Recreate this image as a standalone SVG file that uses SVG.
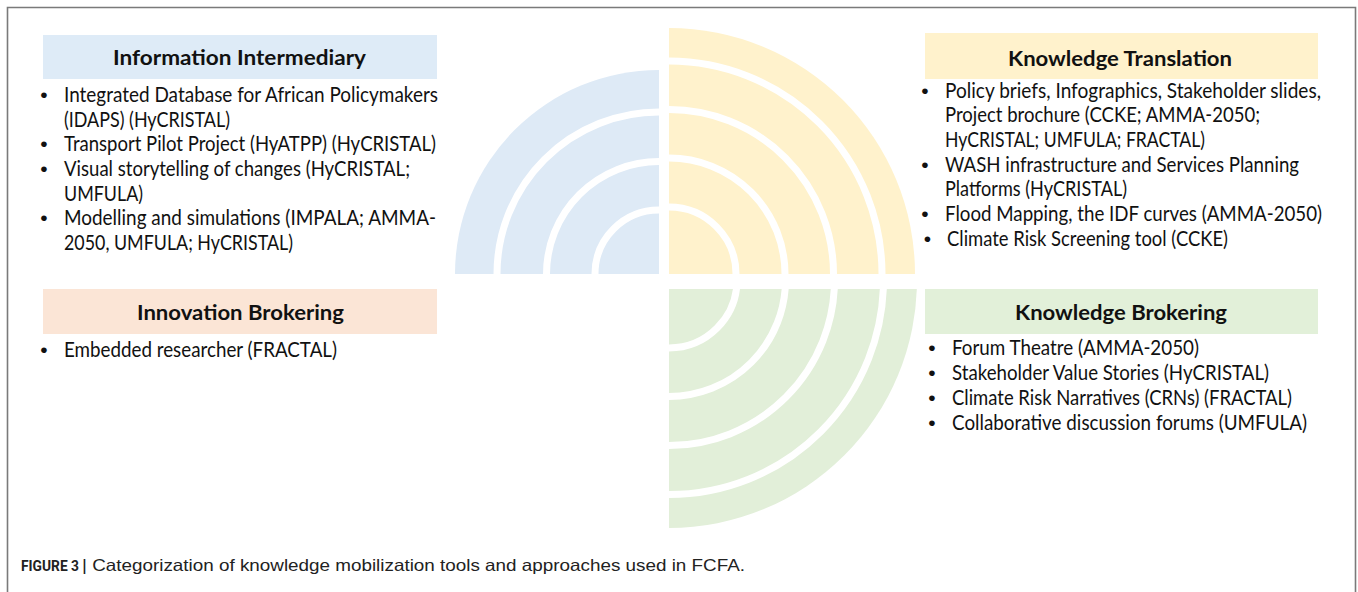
<svg xmlns="http://www.w3.org/2000/svg" width="1358" height="592" viewBox="0 0 1358 592">
<style>
.body{font-family:Lato,"Open Sans","Liberation Sans",sans-serif;font-size:20.5px;fill:#111}
.bul{font-family:"Liberation Sans",sans-serif;font-size:21px;fill:#111;text-anchor:middle}
.head{font-family:Lato,"Open Sans","Liberation Sans",sans-serif;font-size:21px;font-weight:bold;fill:#111}
.sep{fill:none;stroke:#fff;stroke-width:7}
.cap{font-family:"Liberation Sans",Arial,sans-serif;font-size:16.5px;fill:#222}
.capb{font-family:Roboto,"Liberation Sans",Arial,sans-serif;font-size:14.5px;font-weight:bold;fill:#222}
</style>
<defs>
<clipPath id="cBlue"><rect x="440" y="50" width="219" height="224"/></clipPath>
<clipPath id="cYellow"><rect x="669" y="20" width="260" height="254"/></clipPath>
<clipPath id="cGreen"><rect x="669" y="289" width="260" height="250"/></clipPath>
</defs>
<rect width="1358" height="592" fill="#fff"/>
<path d="M7.5,592 V7.5 H1355.5 V592" fill="none" stroke="#7a7a7a" stroke-width="1.6"/>

<g id="quadrant-blue" clip-path="url(#cBlue)">
<circle cx="659" cy="274" r="204" fill="#DEEAF6"/>
<circle class="sep" cx="659" cy="274" r="64"/>
<circle class="sep" cx="659" cy="274" r="112.5"/>
<circle class="sep" cx="659" cy="274" r="162"/>
</g>
<g id="quadrant-yellow" clip-path="url(#cYellow)">
<circle cx="669" cy="274" r="246" fill="#FFF2CC"/>
<circle class="sep" cx="669" cy="274" r="67"/>
<circle class="sep" cx="669" cy="274" r="116"/>
<circle class="sep" cx="669" cy="274" r="164.5"/>
<circle class="sep" cx="669" cy="274" r="213"/>
</g>
<g id="quadrant-green" clip-path="url(#cGreen)">
<circle cx="669" cy="280" r="248" fill="#E2EFD9"/>
<circle class="sep" cx="669" cy="280" r="68"/>
<circle class="sep" cx="669" cy="280" r="116.5"/>
<circle class="sep" cx="669" cy="280" r="165.5"/>
<circle class="sep" cx="669" cy="280" r="214.5"/>
</g>

<g id="information-intermediary">
<rect x="43" y="35" width="394" height="44" fill="#DEEBF7"/>
<text class="head" x="113" y="65" textLength="253" lengthAdjust="spacingAndGlyphs">Information Intermediary</text>
<text class="bul" x="44" y="102">•</text>
<text class="body" x="64" y="102" textLength="374" lengthAdjust="spacingAndGlyphs">Integrated Database for African Policymakers</text>
<text class="body" x="64" y="126.5" textLength="166" lengthAdjust="spacingAndGlyphs">(IDAPS) (HyCRISTAL)</text>
<text class="bul" x="44" y="151">•</text>
<text class="body" x="64" y="151" textLength="372" lengthAdjust="spacingAndGlyphs">Transport Pilot Project (HyATPP) (HyCRISTAL)</text>
<text class="bul" x="44" y="175.8">•</text>
<text class="body" x="64" y="175.8" textLength="346" lengthAdjust="spacingAndGlyphs">Visual storytelling of changes (HyCRISTAL;</text>
<text class="body" x="64" y="200.5" textLength="79" lengthAdjust="spacingAndGlyphs">UMFULA)</text>
<text class="bul" x="44" y="225.2">•</text>
<text class="body" x="64" y="225.2" textLength="372" lengthAdjust="spacingAndGlyphs">Modelling and simulations (IMPALA; AMMA-</text>
<text class="body" x="64" y="250" textLength="229" lengthAdjust="spacingAndGlyphs">2050, UMFULA; HyCRISTAL)</text>
</g>

<g id="innovation-brokering">
<rect x="43" y="289" width="394" height="45" fill="#FBE5D6"/>
<text class="head" x="137" y="320" textLength="207" lengthAdjust="spacingAndGlyphs">Innovation Brokering</text>
<text class="bul" x="44" y="357">•</text>
<text class="body" x="64" y="357" textLength="273" lengthAdjust="spacingAndGlyphs">Embedded researcher (FRACTAL)</text>
</g>

<g id="knowledge-translation">
<rect x="925" y="33" width="393" height="46" fill="#FFF2CC"/>
<text class="head" x="1008" y="66" textLength="224" lengthAdjust="spacingAndGlyphs">Knowledge Translation</text>
<text class="bul" x="925" y="97.5">•</text>
<text class="body" x="945" y="97.5" textLength="376" lengthAdjust="spacingAndGlyphs">Policy briefs, Infographics, Stakeholder slides,</text>
<text class="body" x="945" y="122.2" textLength="315" lengthAdjust="spacingAndGlyphs">Project brochure (CCKE; AMMA-2050;</text>
<text class="body" x="945" y="146.9" textLength="260" lengthAdjust="spacingAndGlyphs">HyCRISTAL; UMFULA; FRACTAL)</text>
<text class="bul" x="925" y="171.6">•</text>
<text class="body" x="945" y="171.6" textLength="354" lengthAdjust="spacingAndGlyphs">WASH infrastructure and Services Planning</text>
<text class="body" x="945" y="196.3" textLength="182" lengthAdjust="spacingAndGlyphs">Platforms (HyCRISTAL)</text>
<text class="bul" x="925" y="221">•</text>
<text class="body" x="945" y="221" textLength="377" lengthAdjust="spacingAndGlyphs">Flood Mapping, the IDF curves (AMMA-2050)</text>
<text class="bul" x="927.5" y="245.7">•</text>
<text class="body" x="947" y="245.7" textLength="281" lengthAdjust="spacingAndGlyphs">Climate Risk Screening tool (CCKE)</text>
</g>

<g id="knowledge-brokering">
<rect x="925" y="289" width="393" height="45" fill="#E2F0D9"/>
<text class="head" x="1015" y="320" textLength="212" lengthAdjust="spacingAndGlyphs">Knowledge Brokering</text>
<text class="bul" x="932" y="355">•</text>
<text class="body" x="952" y="355" textLength="247" lengthAdjust="spacingAndGlyphs">Forum Theatre (AMMA-2050)</text>
<text class="bul" x="932" y="380">•</text>
<text class="body" x="952" y="380" textLength="317" lengthAdjust="spacingAndGlyphs">Stakeholder Value Stories (HyCRISTAL)</text>
<text class="bul" x="932" y="405">•</text>
<text class="body" x="952" y="405" textLength="340" lengthAdjust="spacingAndGlyphs">Climate Risk Narratives (CRNs) (FRACTAL)</text>
<text class="bul" x="932" y="430">•</text>
<text class="body" x="952" y="430" textLength="355" lengthAdjust="spacingAndGlyphs">Collaborative discussion forums (UMFULA)</text>
</g>

<g id="caption">
<text class="capb" x="21" y="571" textLength="58" lengthAdjust="spacingAndGlyphs">FIGURE 3</text>
<text class="cap" x="82" y="571" textLength="663" lengthAdjust="spacingAndGlyphs">| Categorization of knowledge mobilization tools and approaches used in FCFA.</text>
</g>
</svg>
